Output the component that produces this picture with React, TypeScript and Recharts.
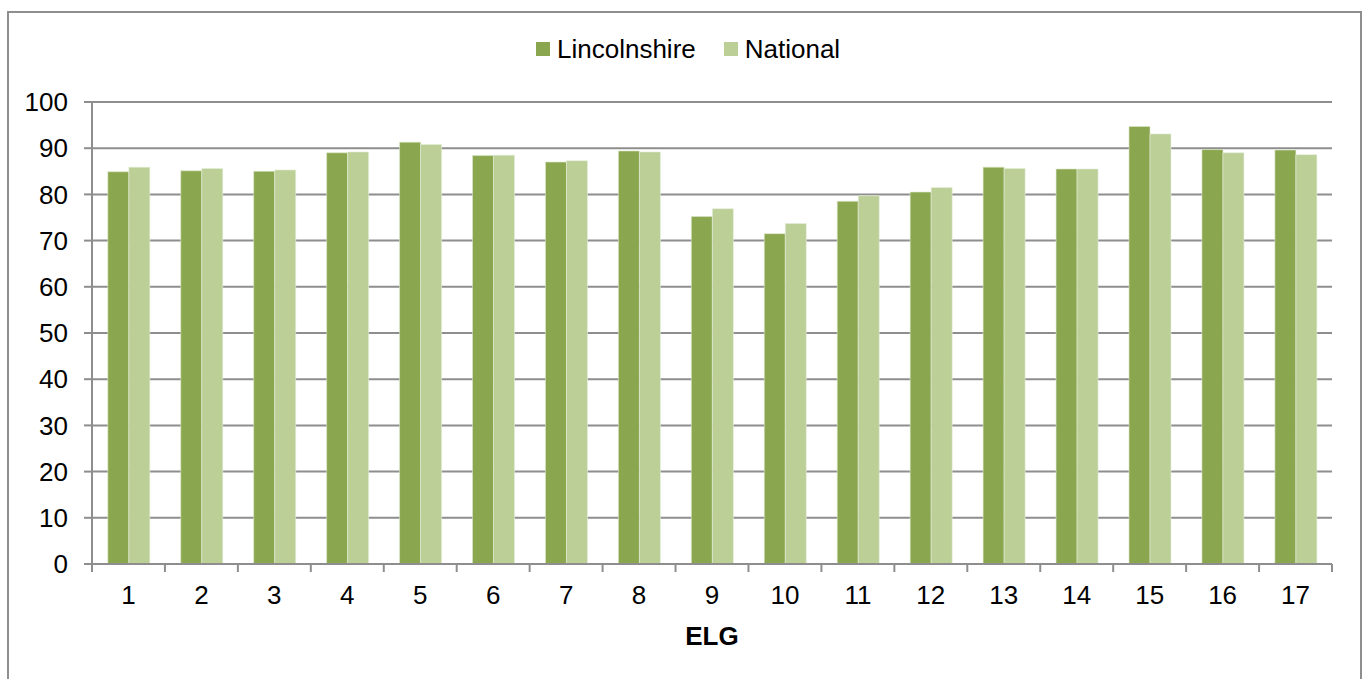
import React from 'react';
import { BarChart, Bar, XAxis, YAxis, CartesianGrid } from 'recharts';

const elg = ['1', '2', '3', '4', '5', '6', '7', '8', '9', '10', '11', '12', '13', '14', '15', '16', '17'];
const lincolnshire = [84.9, 85.1, 85.0, 89.0, 91.3, 88.4, 87.0, 89.4, 75.2, 71.5, 78.5, 80.5, 85.9, 85.5, 94.7, 89.7, 89.6];
const national = [85.9, 85.6, 85.3, 89.2, 90.8, 88.5, 87.3, 89.2, 76.9, 73.7, 79.7, 81.5, 85.6, 85.5, 93.1, 89.0, 88.6];
const yTicks = [0, 10, 20, 30, 40, 50, 60, 70, 80, 90, 100];
const seriesNames = ['Lincolnshire', 'National'];

const data = elg.map((name, i) => ({
    name,
    lincolnshire: lincolnshire[i],
    national: national[i],
}));

const W = 1369;
const H = 679;
const MARGIN = { top: 102, right: 37, left: 0, bottom: 35 };
const Y_AXIS_W = 92;
const X_AXIS_H = 80;
const TICK_SIZE = 8;
const X_TICK_MARGIN = 14;
const PLOT_W = W - MARGIN.left - MARGIN.right - Y_AXIS_W;

const FONT = '"Liberation Sans", Arial, sans-serif';
const FONT_SIZE = 26;
const GREY = '#8E8E8E';
const DARK = '#8AA64E';
const LIGHT = '#BBCF97';
const colors = [DARK, LIGHT];

// tick marks sit between the categories, like the spreadsheet chart
const ElgTick = (props: any) => {
    const { x, y, payload, index } = props;
    const step = PLOT_W / elg.length;
    const axisY = y - TICK_SIZE - X_TICK_MARGIN;
    return (
        <g>
            <line x1={x - step / 2} x2={x - step / 2} y1={axisY} y2={axisY + TICK_SIZE} stroke={GREY} strokeWidth={2} />
            {index === elg.length - 1 && (
                <line x1={x + step / 2} x2={x + step / 2} y1={axisY} y2={axisY + TICK_SIZE} stroke={GREY} strokeWidth={2} />
            )}
            <text x={x} y={y} dy="0.71em" textAnchor="middle" fill="#000" fontSize={FONT_SIZE} fontFamily={FONT}>
                {payload.value}
            </text>
        </g>
    );
};

const LegendBox = () => (
    <div
        style={{
            position: 'absolute',
            left: 536,
            top: 34,
            height: 30,
            display: 'flex',
            alignItems: 'center',
            gap: 28,
        }}
    >
        {seriesNames.map((label, i) => (
            <div key={label} style={{ display: 'flex', alignItems: 'center' }}>
                <span style={{ display: 'inline-block', width: 14, height: 14, background: colors[i], marginRight: 7 }} />
                <span style={{ fontSize: FONT_SIZE, fontFamily: FONT, color: '#000', lineHeight: '30px' }}>{label}</span>
            </div>
        ))}
    </div>
);

const App: React.FC = () => {
    return (
        <div style={{ position: 'absolute', left: 0, top: 0, width: W, height: H, background: '#fff', overflow: 'hidden' }}>
            <div
                style={{
                    position: 'absolute',
                    left: 7,
                    top: 11,
                    width: 1355,
                    height: 700,
                    border: `2px solid ${GREY}`,
                    boxSizing: 'border-box',
                }}
            />
            <BarChart
                width={W}
                height={H}
                data={data}
                margin={MARGIN}
                barCategoryGap="21.7%"
                barGap={0}
                style={{ position: 'absolute', left: 0, top: 0 }}
            >
                <CartesianGrid vertical={false} stroke={GREY} strokeWidth={2} />
                <XAxis
                    dataKey="name"
                    height={X_AXIS_H}
                    stroke={GREY}
                    strokeWidth={2}
                    tickLine={false}
                    tickSize={TICK_SIZE}
                    tickMargin={X_TICK_MARGIN}
                    tick={<ElgTick />}
                    interval={0}
                    label={{
                        value: 'ELG',
                        position: 'insideBottom',
                        offset: -1,
                        style: { fontSize: FONT_SIZE, fontWeight: 'bold', fontFamily: FONT, fill: '#000' },
                    }}
                />
                <YAxis
                    width={Y_AXIS_W}
                    domain={[0, 100]}
                    ticks={yTicks}
                    interval={0}
                    stroke={GREY}
                    strokeWidth={2}
                    tickSize={TICK_SIZE}
                    tickMargin={16}
                    tick={{ fill: '#000', fontSize: FONT_SIZE, fontFamily: FONT }}
                />
                <Bar dataKey="lincolnshire" name={seriesNames[0]} fill={DARK} stroke="#DDE7CB" strokeWidth={0.6} isAnimationActive={false} />
                <Bar dataKey="national" name={seriesNames[1]} fill={LIGHT} stroke="#E6EEDA" strokeWidth={0.6} isAnimationActive={false} />
            </BarChart>
            <LegendBox />
        </div>
    );
};

export default App;
